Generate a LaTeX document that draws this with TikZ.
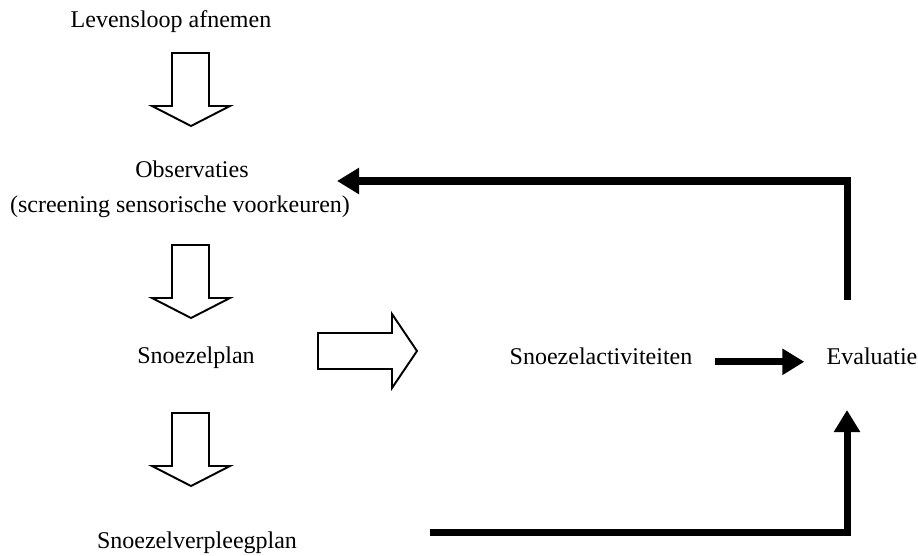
\documentclass[tikz,border=0pt]{standalone}
\usepackage{fontspec}
\setmainfont{Liberation Serif}
\usetikzlibrary{arrows.meta}
\tikzset{
  tekst/.style={anchor=base, inner sep=0pt, font=\fontsize{13.66}{16}\selectfont},
  holpijl/.style={draw=black, fill=white, line width=1.1pt, line join=miter},
  dikpijl/.style={line width=4pt, -{Triangle[length=0.44cm,width=0.5cm]}},
}
\begin{document}
\begin{tikzpicture}[x=0.02cm, y=-0.02cm]
  \useasboundingbox (0,0) rectangle (918,555);
  % teksten
  \node[tekst] (levensloop) at (171,27) {Levensloop afnemen};
  \node[tekst] (observaties) at (192,177) {Observaties};
  \node[tekst] (screening) at (180,212) {(screening sensorische voorkeuren)};
  \node[tekst] (snoezelplan) at (196,363) {Snoezelplan};
  \node[tekst] (activiteiten) at (601,364) {Snoezelactiviteiten};
  \node[tekst] (evaluatie) at (872,364) {Evaluatie};
  \node[tekst] (verpleegplan) at (197,548) {Snoezelverpleegplan};
  % holle pijlen naar beneden
  \foreach \top in {53,245,413}{
    \draw[holpijl] (172,\top) -- (209,\top) -- (209,\top+53) -- (230,\top+53)
      -- (191,\top+73) -- (152,\top+53) -- (172,\top+53) -- cycle;
  }
  % holle pijl naar rechts
  \draw[holpijl] (318,333) -- (392,333) -- (392,314) -- (417,351)
    -- (392,388) -- (392,369) -- (318,369) -- cycle;
  % dikke pijlen
  \coordinate (retourstart) at (847,300);
  \coordinate (retourhoek) at (847,181);
  \coordinate (retourpunt) at (337,181);
  \coordinate (onderstart) at (430,532);
  \coordinate (onderhoek) at (847,532);
  \coordinate (onderpunt) at (847,410);
  \draw[dikpijl, shorten <=0.44cm, shorten >=0.44cm]
    ([yshift=-0.12cm]activiteiten.east) -- ([yshift=-0.12cm]evaluatie.west);
  \draw[dikpijl] (retourstart) -- (retourhoek) -- (retourpunt);
  \draw[dikpijl] (onderstart) -- (onderhoek) -- (onderpunt);
\end{tikzpicture}
\end{document}
